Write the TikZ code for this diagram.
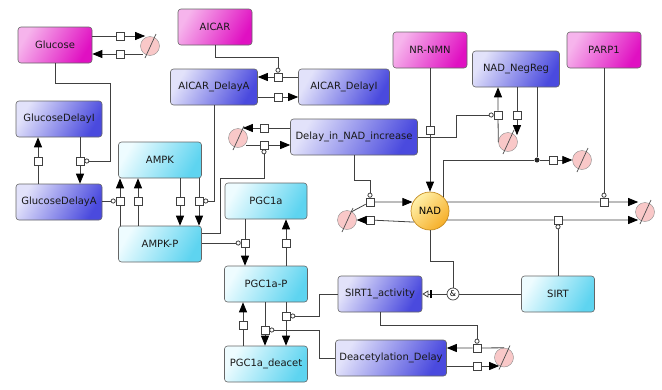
\documentclass[tikz,border=0pt]{standalone}
\usepackage{fontspec}
\setmainfont{DejaVu Sans}
\usepackage{tikz}
\usetikzlibrary{arrows.meta, positioning}

\definecolor{pinkL}{HTML}{F6B4EC}
\definecolor{pinkD}{HTML}{E010C2}
\definecolor{blueL}{HTML}{E2E2FA}
\definecolor{blueD}{HTML}{4A4ADE}
\definecolor{cyanL}{HTML}{EEFCFF}
\definecolor{cyanD}{HTML}{5ED4F0}
\definecolor{nadL}{HTML}{FFF0A8}
\definecolor{nadD}{HTML}{F6AE28}
\definecolor{sinkC}{HTML}{F9C8C8}

\tikzset{
  species/.style={rectangle, rounded corners=3pt, draw=black!60, line width=0.6pt,
    inner sep=2pt, minimum height=36pt, font=\fontsize{10}{12}\selectfont, text=black!90},
  macro/.style={species, top color=pinkL, bottom color=pinkD, shading angle=60},
  delay/.style={species, top color=blueL, bottom color=blueD, shading angle=60},
  protein/.style={species, top color=cyanL, bottom color=cyanD, shading angle=60},
  proc/.style={rectangle, draw=black!75, fill=white, line width=0.6pt, minimum size=8pt, inner sep=0},
  sink/.style={circle, draw=black!45, fill=sinkC, minimum size=19pt, inner sep=0},
  link/.style={draw=black!75, line width=0.8pt},
  prod/.style={link, -{Triangle[length=10pt,width=8pt,color=black]}},
  modul/.style={link, -{Circle[open,length=5pt,width=5pt]}},
  necc/.style={link, -{Bar[width=8pt,line width=1.2pt,sep=2pt,color=black]Triangle[open,length=6pt,width=7pt]}},
}

\begin{document}
\begin{tikzpicture}[x=1pt, y=-1pt]
\useasboundingbox (0,0) rectangle (662,389);

% species
\node[macro, minimum width=74pt] (Glucose) at (55,45) {Glucose};
\node[macro, minimum width=74pt] (AICAR) at (215,27) {AICAR};
\node[macro, minimum width=74pt] (NRNMN) at (430,50) {NR-NMN};
\node[macro, minimum width=74pt] (PARP1) at (604,50) {PARP1};
\node[delay, minimum width=87pt] (AICARDelayA) at (214,87) {AICAR\_DelayA};
\node[delay, minimum width=91pt] (AICARDelayI) at (344,87) {AICAR\_DelayI};
\node[delay, minimum width=87pt] (NADNegReg) at (516,69) {NAD\_NegReg};
\node[delay, minimum width=127pt] (DelayNAD) at (354,137) {Delay\_in\_NAD\_increase};
\node[delay, minimum width=86pt] (GlucoseDelayI) at (59,119) {GlucoseDelayI};
\node[delay, minimum width=86pt] (GlucoseDelayA) at (59,202) {GlucoseDelayA};
\node[protein, minimum width=83pt] (AMPK) at (160,160) {AMPK};
\node[protein, minimum width=83pt] (AMPKP) at (160,244) {AMPK-P};
\node[protein, minimum width=82pt] (PGC1a) at (266,201) {PGC1a};
\node[protein, minimum width=83pt] (PGC1aP) at (266,284) {PGC1a-P};
\node[protein, minimum width=83pt] (PGC1adeacet) at (266,364) {PGC1a\_deacet};
\node[delay, minimum width=84pt] (SIRT1act) at (380,294) {SIRT1\_activity};
\node[delay, minimum width=111pt] (DeacDelay) at (391,358) {Deacetylation\_Delay};
\node[protein, minimum width=73pt] (SIRT) at (558,294) {SIRT};
\node[circle, draw=nadD!80!black, line width=0.7pt, minimum size=38pt, inner sep=0,
  top color=nadL, bottom color=nadD, shading angle=45, font=\fontsize{10}{12}\selectfont] (NAD) at (430,211) {NAD};

% sinks
\node[sink] (sG) at (150,46) {};
\node[sink] (sD) at (238,138) {};
\node[sink] (sN) at (347,220) {};
\node[sink] (sR) at (508,142) {};
\node[sink] (sR2) at (582,160) {};
\node[sink] (sP) at (645,212) {};
\node[sink] (sDD) at (504,357.5) {};
\foreach \s in {sG,sD,sN,sR,sR2,sP,sDD}
  \draw[black!70, line width=0.7pt] (\s.center) ++(-5,12) -- ++(11,-24);

% process nodes
\node[proc] (pG1) at (120,36) {};
\node[proc] (pG2) at (120,54) {};
\node[proc] (pGD1) at (38,161) {};
\node[proc] (pGD2) at (80,161) {};
\node[proc] (pA1) at (120,201) {};
\node[proc] (pA2) at (138,201) {};
\node[proc] (pA3) at (180,201) {};
\node[proc] (pA4) at (199,201) {};
\node[proc] (pAI1) at (278,77) {};
\node[proc] (pAI2) at (278,97) {};
\node[proc] (pD1) at (264,128) {};
\node[proc] (pD2) at (264,145) {};
\node[proc] (pN1) at (370,202) {};
\node[proc] (pN2) at (370,220) {};
\node[proc] (pNR) at (430,130) {};
\node[proc] (pR1a) at (498,115) {};
\node[proc] (pR1b) at (517,115) {};
\node[proc] (pR2) at (553,160) {};
\node[proc] (pP) at (604,202) {};
\node[proc] (pS) at (558,220) {};
\node[proc] (pPG1) at (245,243) {};
\node[proc] (pPG2) at (286,243) {};
\node[proc] (pPD1) at (286,316) {};
\node[proc] (pPD2) at (265,330) {};
\node[proc] (pPD3) at (243,325) {};
\node[proc] (pDD1) at (477,348) {};
\node[proc] (pDD2) at (477,366) {};
\node[circle, fill=black!85, inner sep=0, minimum size=5pt] (assoc) at (537,160) {};
\node[circle, draw=black!75, line width=0.7pt, inner sep=0, minimum size=12pt,
  font=\fontsize{8}{8}\selectfont] (andop) at (453,294) {\&};

% glucose
\draw[prod] (Glucose.east |- pG1) -- (pG1) -- (pG1 -| sG.120);
\draw[prod] (pG2 -| sG.220) -- (pG2) -- (Glucose.east |- pG2);
\draw[prod] (GlucoseDelayA.north -| pGD1) -- (pGD1) -- (GlucoseDelayI.south -| pGD1);
\draw[prod] (GlucoseDelayI.south -| pGD2) -- (pGD2) -- (GlucoseDelayA.north -| pGD2);
\draw[modul] (Glucose.south) -- ++(0,20) -| ([xshift=26pt]pGD2.east) -- (pGD2);

% AMPK
\draw[prod] (AMPKP.north -| pA1) -- (pA1) -- (AMPK.south -| pA1);
\draw[prod] (AMPKP.north -| pA2) -- (pA2) -- (AMPK.south -| pA2);
\draw[prod] (AMPK.south -| pA3) -- (pA3) -- (AMPKP.north -| pA3);
\draw[prod] (AMPK.south -| pA4) -- (pA4) -- (AMPKP.north -| pA4);
\draw[modul] (GlucoseDelayA.east |- pA1) -- (pA1);
\draw[modul] (AICARDelayA.south) |- (pA4);

% AICAR
\draw[prod] (AICARDelayI.west |- pAI1) -- (pAI1) -- (AICARDelayA.east |- pAI1);
\draw[prod] (AICARDelayA.east |- pAI2) -- (pAI2) -- (AICARDelayI.west |- pAI2);
\draw[modul] (AICAR.south) -- ++(0,12) -| (pAI1);

% delay in NAD increase
\draw[prod] (DelayNAD.west |- pD1) -- (pD1) -- (pD1 -| sD.60);
\draw[prod] (pD2 -| sD.-30) -- (pD2) -- (DelayNAD.west |- pD2);
\draw[modul] ([yshift=11pt]AMPKP.east) -- ++(19,0) -- ++(0,-55) -| (pD2);

% NAD in and out
\draw[prod] (sN.60) -- (pN1) -- (pN1 -| NAD.155);
\draw[prod] (NAD.215) -- (pN2) -- (sN.east);
\draw[modul] (DelayNAD.south) -- ++(0,25) -| (pN1);
\draw[prod] (NRNMN.south) -- (pNR) -- (NAD.north);

% NAD_NegReg
\draw[prod] (sR.west) -- (pR1a) -- (NADNegReg.south -| pR1a);
\draw[prod] (NADNegReg.south -| pR1b) -- (pR1b) -- (pR1b |- sR.45);
\draw[modul] (DelayNAD.east) -- ++(39,0) |- (pR1a);
\draw[link] (NAD.45) |- (assoc);
\draw[link] (NADNegReg.south -| assoc) -- (assoc);
\draw[prod] (assoc) -- (pR2) -- (sR2.west);

% PARP1 and SIRT
\draw[prod] (NAD.28) -- (pP) -- (pP -| sP.135);
\draw[prod] (NAD.-28) -- (pS) -- (pS -| sP.225);
\draw[modul] (PARP1.south) -- (pP);
\draw[modul] (SIRT.north) -- (pS);
\draw[link] (NAD.south) -- ++(0,31) -| (andop);
\draw[link] (SIRT.west) -- (andop);
\draw[necc] (andop) -- (SIRT1act.east);

% PGC1a
\draw[prod] (PGC1a.south -| pPG1) -- (pPG1) -- (PGC1aP.north -| pPG1);
\draw[prod] (PGC1aP.north -| pPG2) -- (pPG2) -- (PGC1a.south -| pPG2);
\draw[modul] (AMPKP.east |- pPG1) -- (pPG1);
\draw[prod] (PGC1adeacet.north -| pPD3) -- (pPD3) -- (PGC1aP.south -| pPD3);
\draw[prod] (PGC1aP.south -| pPD2) -- (pPD2) -- (PGC1adeacet.north -| pPD2);
\draw[prod] (PGC1aP.south -| pPD1) -- (pPD1) -- (PGC1adeacet.north -| pPD1);
\draw[modul] (SIRT1act.west) -- ++(-18,0) |- (pPD1);
\draw[modul] (DeacDelay.west) -- ++(-16,0) |- (pPD2);

% deacetylation delay
\draw[prod] (sDD.north) -- (pDD1) -- (DeacDelay.east |- pDD1);
\draw[prod] (DeacDelay.east |- pDD2) -- (pDD2) -- (pDD2 -| sDD.240);
\draw[modul] (SIRT1act.south) -- ++(0,13) -| (pDD1);
\end{tikzpicture}
\end{document}
